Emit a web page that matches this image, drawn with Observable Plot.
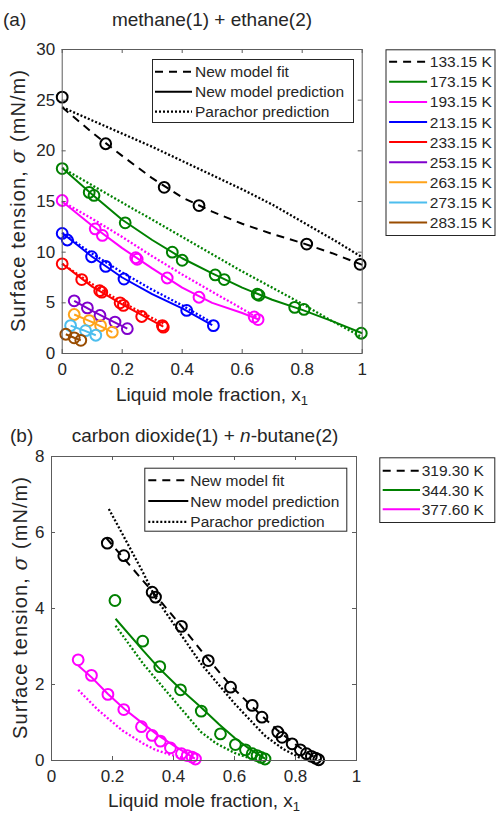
<!DOCTYPE html>
<html><head><meta charset="utf-8">
<script src="https://cdn.jsdelivr.net/npm/d3@7"></script>
<script src="https://cdn.jsdelivr.net/npm/@observablehq/plot@0.6"></script>
<style>
body{margin:0;background:#fff;}
#root{position:relative;width:496px;height:817px;overflow:hidden;background:#fff;}
#root svg{position:absolute;}
</style></head><body><div id="root"></div>
<script>
const FONT = '"Liberation Sans", Arial, Helvetica, sans-serif';

// ---------- Panel (a): methane(1) + ethane(2) ----------
const titleA = "methane(1) + ethane(2)";
const tempsA = ["133.15 K","173.15 K","193.15 K","213.15 K","233.15 K","253.15 K","263.15 K","273.15 K","283.15 K"];
const colorsA = ["#000000","#008000","#ff00ff","#0000ff","#ff0000","#8000cc","#ffa31a","#4dbeee","#994c00"];

const ptsA133 = [[0,25.3],[0.145,20.7],[0.34,16.4],[0.456,14.6],[0.815,10.8],[0.993,8.8]];
const ptsA173 = [[0,18.25],[0.09,15.9],[0.106,15.6],[0.21,12.9],[0.367,10.0],[0.40,9.2],[0.51,7.75],[0.54,7.3],[0.65,5.85],[0.656,5.75],[0.775,4.55],[0.806,4.35],[0.997,2.0]];
const ptsA193 = [[0,15.1],[0.11,12.3],[0.134,11.65],[0.245,9.45],[0.25,9.3],[0.35,7.45],[0.456,5.55],[0.64,3.6],[0.653,3.35]];
const ptsA213 = [[0,11.85],[0.017,11.2],[0.098,9.55],[0.145,8.6],[0.206,7.35],[0.415,4.25],[0.504,2.75]];
const ptsA233 = [[0,8.85],[0.065,7.3],[0.125,6.2],[0.132,6.05],[0.193,5.0],[0.204,4.75],[0.265,3.65],[0.334,2.75],[0.337,2.6]];
const ptsA253 = [[0.04,5.2],[0.084,4.5],[0.126,3.75],[0.176,3.1],[0.217,2.45]];
const ptsA263 = [[0.04,3.85],[0.09,3.25],[0.128,2.75],[0.167,2.1]];
const ptsA273 = [[0.028,2.75],[0.078,2.25],[0.112,1.8]];
const ptsA283 = [[0.012,1.9],[0.04,1.55],[0.062,1.3]];

// new model fit (dashed)
const fitA133 = [[0,24.3],[0.1,21.8],[0.2,19.5],[0.3,17.3],[0.4,15.4],[0.5,14.0],[0.6,12.8],[0.7,11.8],[0.8,10.9],[0.9,9.9],[1,8.75]];
// new model prediction (solid)
const predA173 = [[0,18.3],[0.1,15.7],[0.2,13.2],[0.3,11.2],[0.4,9.4],[0.5,7.9],[0.6,6.5],[0.7,5.3],[0.8,4.3],[0.9,3.2],[1,2.0]];
const predA193 = [[0,15.0],[0.1,12.6],[0.2,10.4],[0.3,8.4],[0.4,6.5],[0.5,5.0],[0.6,4.0],[0.655,3.35]];
const predA213 = [[0,11.9],[0.1,9.55],[0.2,7.5],[0.3,5.85],[0.4,4.45],[0.5,2.8]];
const predA233 = [[0,8.85],[0.1,6.6],[0.2,4.85],[0.3,3.25],[0.337,2.65]];
const predA253 = [[0.04,5.2],[0.1,4.2],[0.15,3.45],[0.217,2.45]];
const predA263 = [[0.04,3.85],[0.1,3.1],[0.167,2.1]];
const predA273 = [[0.028,2.75],[0.07,2.3],[0.112,1.8]];
const predA283 = [[0.012,1.9],[0.04,1.55],[0.062,1.3]];
// parachor prediction (dotted)
const parA133 = [[0,24.3],[0.1,23.0],[0.2,21.7],[0.3,20.4],[0.4,19.0],[0.5,17.6],[0.6,16.2],[0.7,14.7],[0.8,13.0],[0.9,11.3],[1,9.5]];
const parA173 = [[0,18.3],[0.1,16.6],[0.2,14.9],[0.3,13.2],[0.4,11.5],[0.5,9.8],[0.6,8.1],[0.7,6.5],[0.8,4.9],[0.9,3.2],[1,1.6]];
const parA193 = [[0,15.0],[0.1,13.3],[0.2,11.5],[0.3,9.6],[0.4,7.8],[0.5,6.1],[0.6,4.4],[0.655,3.45]];
const parA213 = [[0,11.9],[0.1,9.85],[0.2,8.0],[0.3,6.3],[0.4,4.75],[0.5,3.05]];
const parA233 = [[0,8.85],[0.1,6.85],[0.2,5.05],[0.3,3.5],[0.337,2.95]];

// ---------- Panel (b): carbon dioxide(1) + n-butane(2) ----------
const titleB = ["carbon dioxide(1) + ", "n", "-butane(2)"];
const tempsB = ["319.30 K","344.30 K","377.60 K"];
const colorsB = ["#000000","#008000","#ff00ff"];

const ptsB319 = [[0.183,5.72],[0.237,5.39],[0.33,4.43],[0.341,4.3],[0.426,3.53],[0.514,2.63],[0.587,1.93],[0.658,1.45],[0.69,1.14],[0.742,0.75],[0.756,0.61],[0.789,0.44],[0.816,0.28],[0.836,0.18],[0.852,0.11],[0.866,0.06],[0.876,0.02]];
const ptsB344 = [[0.208,4.21],[0.299,3.14],[0.355,2.47],[0.423,1.86],[0.491,1.3],[0.554,0.7],[0.603,0.42],[0.636,0.28],[0.658,0.18],[0.674,0.13],[0.687,0.08],[0.70,0.04]];
const ptsB377 = [[0.0875,2.65],[0.131,2.24],[0.185,1.74],[0.237,1.34],[0.295,0.89],[0.33,0.66],[0.357,0.51],[0.39,0.33],[0.426,0.18],[0.445,0.13],[0.461,0.09],[0.472,0.04]];

const fitB319 = [[0.18,5.85],[0.25,5.2],[0.33,4.45],[0.43,3.5],[0.51,2.7],[0.59,1.95],[0.66,1.4],[0.74,0.8],[0.8,0.42],[0.85,0.15],[0.88,0.0]];
const predB344 = [[0.21,3.73],[0.3,2.9],[0.35,2.45],[0.42,1.9],[0.49,1.4],[0.55,0.95],[0.6,0.6],[0.65,0.3],[0.7,0.05]];
const predB377 = [[0.0875,2.5],[0.13,2.2],[0.185,1.75],[0.24,1.35],[0.3,0.97],[0.35,0.66],[0.4,0.4],[0.44,0.2],[0.47,0.05]];
const parB319 = [[0.188,6.62],[0.25,5.7],[0.3,4.95],[0.34,4.3],[0.4,3.6],[0.49,2.55],[0.6,1.5],[0.7,0.65],[0.76,0.3],[0.82,0.05]];
const parB344 = [[0.21,3.55],[0.3,2.55],[0.4,1.6],[0.49,0.75],[0.54,0.45],[0.6,0.2],[0.65,0.06]];
const parB377 = [[0.0875,1.86],[0.15,1.35],[0.232,0.79],[0.3,0.45],[0.341,0.28],[0.39,0.15],[0.43,0.07]];

// ---------- shared ----------
const xTicks = [0,0.2,0.4,0.6,0.8,1];
const yTicksA = [0,5,10,15,20,25,30];
const yTicksB = [0,2,4,6,8];
const xLabel = ["Liquid mole fraction, x", "1"];
const yLabel = ["Surface tension, ", "σ", " (mN/m)"];
const styleNames = ["New model fit","New model prediction","Parachor prediction"];

const DASH = "8,6", DOT = "2,2";
const rows = (T, arr) => arr.map(([x,y]) => ({T, x, y}));
const AXC = "#5c5c5c", TXT = "#262626";

function panel({left, top, width, height, mL, mT, mR, mB, yDomain, yTicks, temps, colors, pts, fit, pred, par}) {
  const iw = width - mL - mR, ih = height - mT - mB;
  const chart = Plot.plot({
    width, height, marginLeft: mL, marginTop: mT, marginRight: mR, marginBottom: mB,
    x: {domain: [0,1]}, y: {domain: yDomain},
    color: {domain: temps, range: colors},
    style: {fontFamily: FONT, background: "transparent", overflow: "visible"},
    marks: [
      Plot.line(par, {x: "x", y: "y", z: "T", stroke: "T", strokeWidth: 2.3, strokeDasharray: DOT, strokeLinecap: "butt"}),
      Plot.line(pred, {x: "x", y: "y", z: "T", stroke: "T", strokeWidth: 2, strokeLinecap: "butt"}),
      Plot.line(fit, {x: "x", y: "y", z: "T", stroke: "T", strokeWidth: 2, strokeDasharray: DASH, strokeLinecap: "butt"}),
      Plot.dot(pts, {x: "x", y: "y", stroke: "T", r: 5.4, strokeWidth: 2, fill: "none"}),
      Plot.frame({stroke: AXC}),
      Plot.tickX(xTicks, {x: d => d, insetTop: ih - 4, stroke: AXC}),
      Plot.tickX(xTicks, {x: d => d, insetBottom: ih - 4, stroke: AXC}),
      Plot.tickY(yTicks, {y: d => d, insetRight: iw - 4, stroke: AXC}),
      Plot.tickY(yTicks, {y: d => d, insetLeft: iw - 4, stroke: AXC}),
      Plot.axisX(xTicks, {anchor: "bottom", tickSize: 0, tickPadding: 9, fontSize: 17, color: TXT, label: null, tickFormat: d => String(d)}),
      Plot.axisY(yTicks, {anchor: "left", tickSize: 0, tickPadding: 7, fontSize: 17, color: TXT, label: null, tickFormat: d => String(d)})
    ]
  });
  chart.style.left = left + "px";
  chart.style.top = top + "px";
  document.getElementById("root").appendChild(chart);
}

const allRows = (temps, list) => list.flatMap(([i, arr]) => rows(temps[i], arr));

panel({
  left: 0, top: 0, width: 370, height: 400, mL: 61.7, mT: 49, mR: 8.3, mB: 47,
  yDomain: [0,30], yTicks: yTicksA, temps: tempsA, colors: colorsA,
  pts: allRows(tempsA, [[0,ptsA133],[1,ptsA173],[2,ptsA193],[3,ptsA213],[4,ptsA233],[5,ptsA253],[6,ptsA263],[7,ptsA273],[8,ptsA283]]),
  fit: allRows(tempsA, [[0,fitA133]]),
  pred: allRows(tempsA, [[1,predA173],[2,predA193],[3,predA213],[4,predA233],[5,predA253],[6,predA263],[7,predA273],[8,predA283]]),
  par: allRows(tempsA, [[0,parA133],[1,parA173],[2,parA193],[3,parA213],[4,parA233]])
});

panel({
  left: 0, top: 400, width: 370, height: 417, mL: 51, mT: 56, mR: 14, mB: 57,
  yDomain: [0,8], yTicks: yTicksB, temps: tempsB, colors: colorsB,
  pts: allRows(tempsB, [[0,ptsB319],[1,ptsB344],[2,ptsB377]]),
  fit: allRows(tempsB, [[0,fitB319]]),
  pred: allRows(tempsB, [[1,predB344],[2,predB377]]),
  par: allRows(tempsB, [[0,parB319],[1,parB344],[2,parB377]])
});

// ---------- overlay: titles, labels, legends ----------
const svg = d3.select("#root").append("svg")
  .attr("width", 496).attr("height", 817)
  .style("left", "0px").style("top", "0px")
  .attr("font-family", FONT).attr("fill", TXT);

function plain(x, y, s, size, anchor = "start") {
  svg.append("text").attr("x", x).attr("y", y).attr("dy", "0.36em")
    .attr("font-size", size).attr("text-anchor", anchor).text(s);
}
plain(3, 19, "(a)", 19);
plain(212, 19, titleA, 19, "middle");
plain(10, 435, "(b)", 19);
{
  const t = svg.append("text").attr("x", 205).attr("y", 435).attr("dy", "0.36em")
    .attr("font-size", 19).attr("text-anchor", "middle");
  t.append("tspan").text(titleB[0]);
  t.append("tspan").attr("font-style", "italic").text(titleB[1]);
  t.append("tspan").text(titleB[2]);
}
function xlab(cx, cy) {
  const t = svg.append("text").attr("x", cx).attr("y", cy).attr("dy", "0.36em")
    .attr("font-size", 19).attr("text-anchor", "middle");
  t.append("tspan").text(xLabel[0]);
  t.append("tspan").attr("font-size", 13).attr("dy", 4).text(xLabel[1]);
}
function ylab(cx, cy) {
  const t = svg.append("text").attr("transform", `translate(${cx},${cy}) rotate(-90)`)
    .attr("dy", "0.36em").attr("font-size", 20).attr("text-anchor", "middle")
    .attr("textLength", 262).attr("lengthAdjust", "spacing");
  t.append("tspan").text(yLabel[0]);
  t.append("tspan").attr("font-style", "italic").attr("font-family", "DejaVu Serif, serif").text(yLabel[1]);
  t.append("tspan").text(yLabel[2]);
}
xlab(212, 394); ylab(18, 201);
xlab(204, 800); ylab(20, 608);

function legend(bx, by, bw, bh, items, rowY, lx1, lx2, tx) {
  const g = svg.append("g");
  g.append("rect").attr("x", bx + 0.5).attr("y", by + 0.5).attr("width", bw).attr("height", bh)
    .attr("fill", "#fff").attr("stroke", "#262626").attr("stroke-width", 1);
  items.forEach((it, i) => {
    const y = by + rowY[0] + rowY[1] * i;
    g.append("line").attr("x1", bx + lx1).attr("x2", bx + lx2).attr("y1", y).attr("y2", y)
      .attr("stroke", it.color).attr("stroke-width", it.w || 2)
      .attr("stroke-dasharray", it.dash || null);
    g.append("text").attr("x", bx + tx).attr("y", y).attr("dy", "0.36em")
      .attr("font-size", 15.5).text(it.label);
  });
}
const styleItems = styleNames.map((s, i) => ({label: s, color: "#000", dash: [DASH, null, DOT][i], w: i === 2 ? 2.3 : 2}));
legend(152, 59, 201, 63, styleItems, [12.7, 20], 3, 40, 43);
legend(144.3, 467.7, 202, 63, styleItems, [12.5, 20.8], 4, 44, 46);
legend(385.5, 49.3, 109, 185.7, tempsA.map((t, i) => ({label: t, color: colorsA[i], dash: i === 0 ? DASH : null})), [12.4, 20.1], 3.6, 41.6, 44.3);
legend(379.3, 457.3, 115, 64.7, tempsB.map((t, i) => ({label: t, color: colorsB[i], dash: i === 0 ? DASH : null})), [13.4, 19.3], 3.4, 40.7, 42.4);
</script></body></html>
